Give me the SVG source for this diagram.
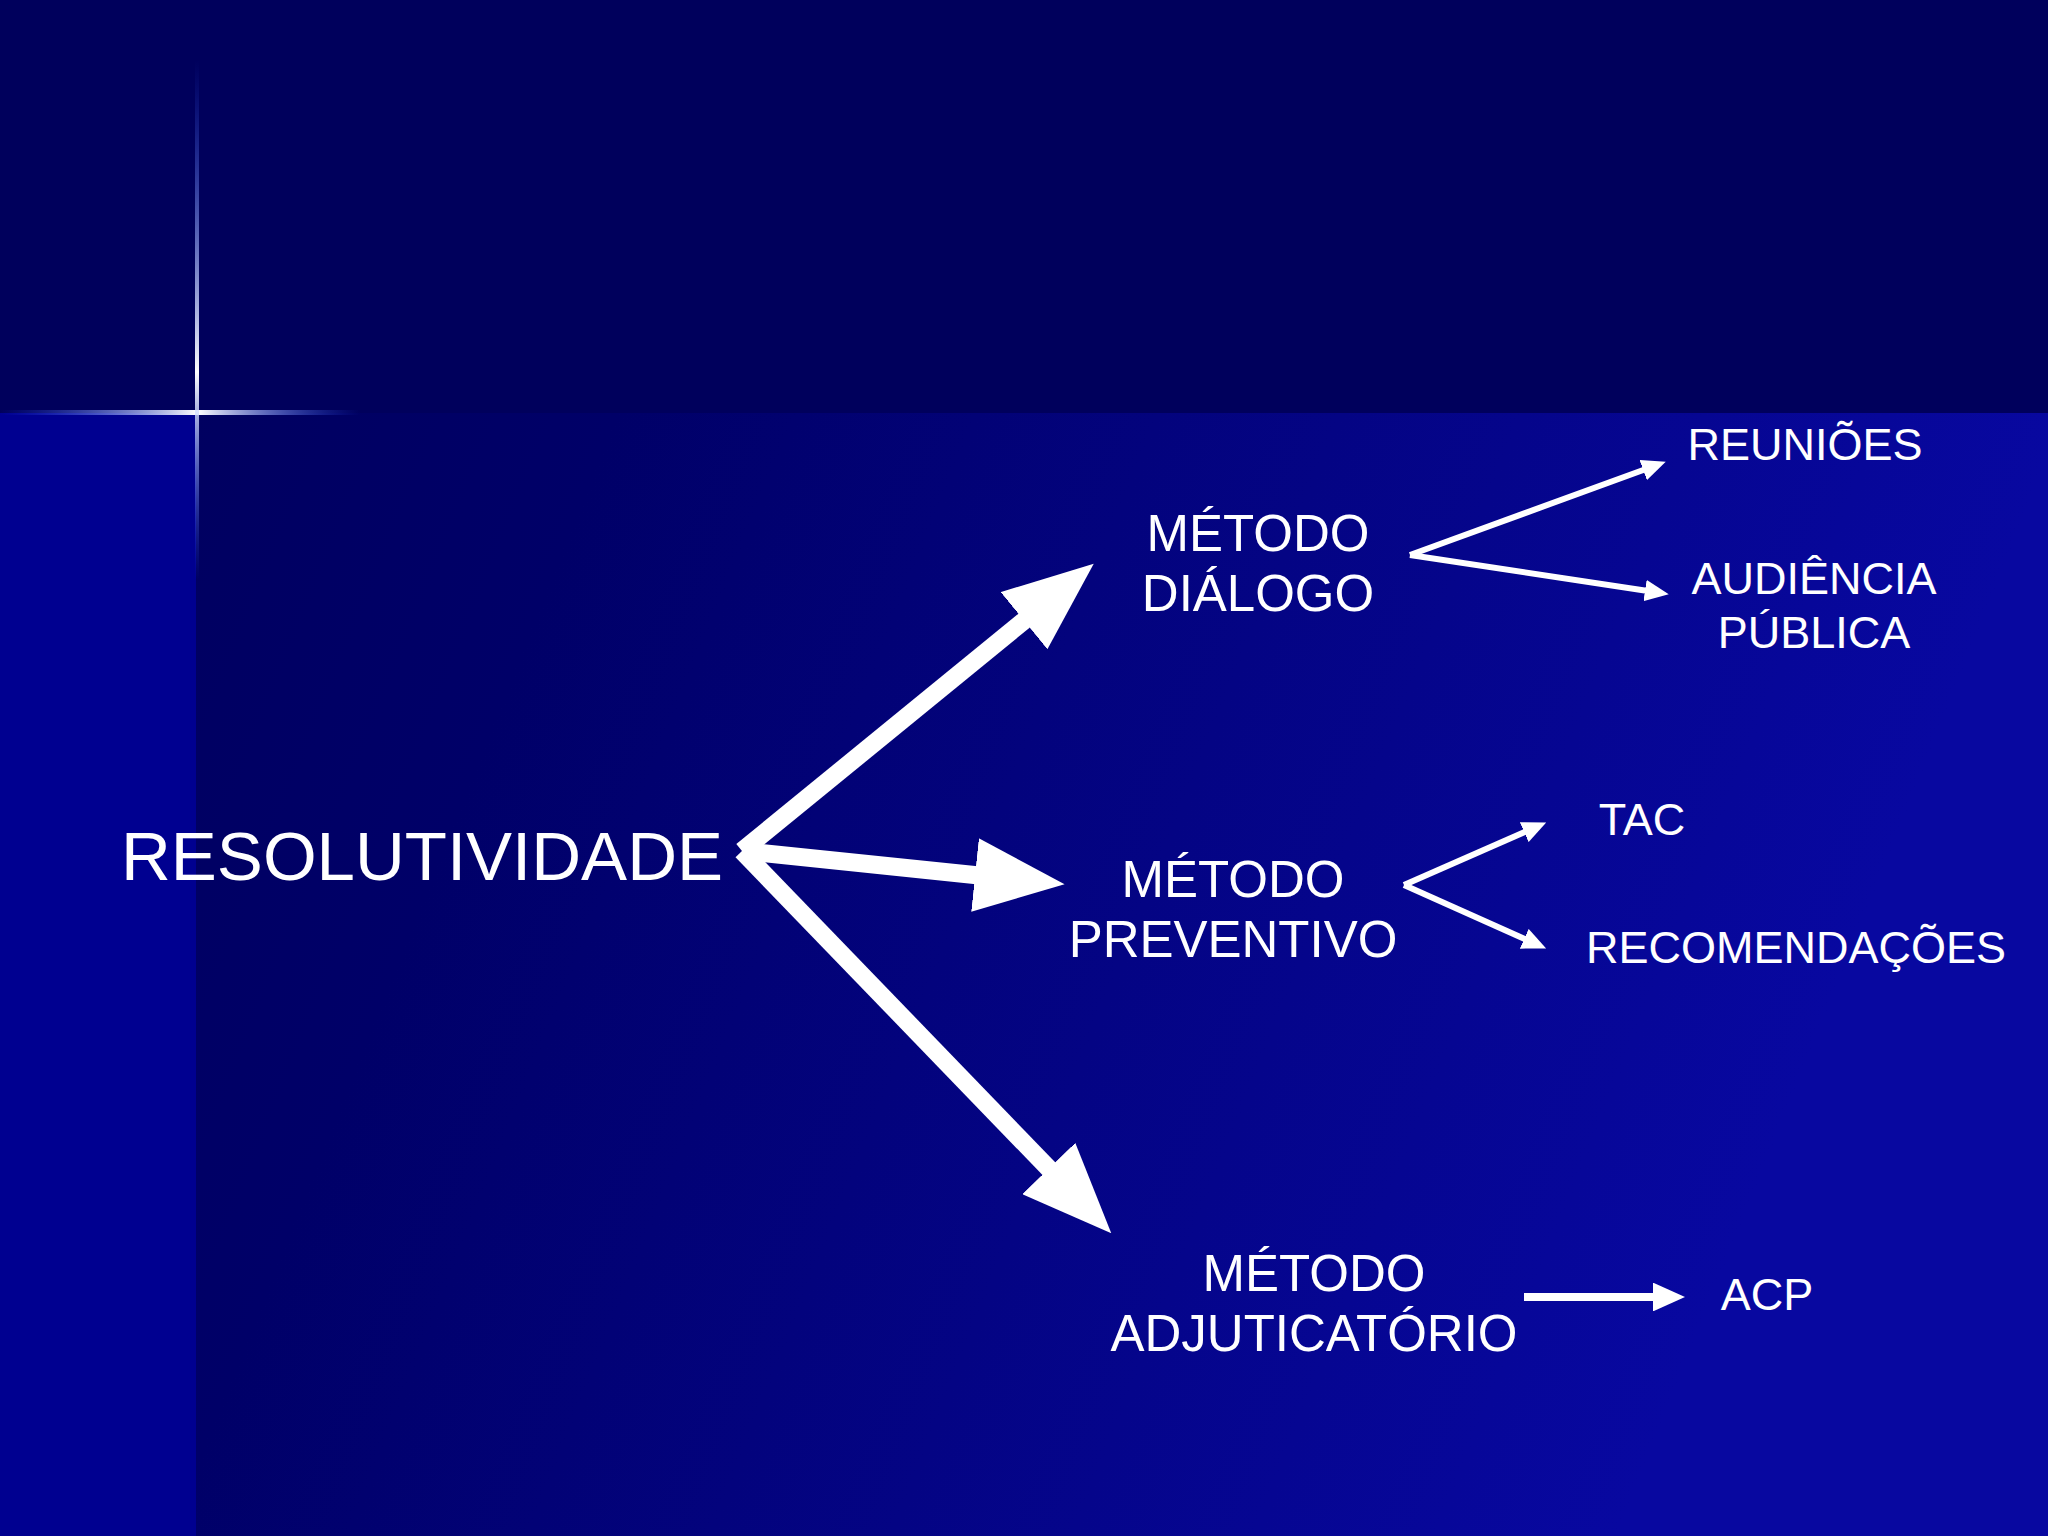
<svg xmlns="http://www.w3.org/2000/svg" width="2048" height="1536" viewBox="0 0 2048 1536">
<defs>
<linearGradient id="bg" x1="0" y1="0" x2="1" y2="0.3">
<stop offset="0" stop-color="#00005a"/><stop offset="0.35" stop-color="#000068"/><stop offset="1" stop-color="#0808a0"/>
</linearGradient>
<linearGradient id="hl" x1="0" y1="0" x2="1" y2="0">
<stop offset="0" stop-color="#2050ff" stop-opacity="0"/><stop offset="0.55" stop-color="#ffffff"/><stop offset="1" stop-color="#2050ff" stop-opacity="0"/>
</linearGradient>
<linearGradient id="vl" x1="0" y1="0" x2="0" y2="1">
<stop offset="0" stop-color="#2050ff" stop-opacity="0"/><stop offset="0.6" stop-color="#ffffff"/><stop offset="1" stop-color="#2050ff" stop-opacity="0"/>
</linearGradient>
<marker id="big" markerWidth="5" markerHeight="4.1" refX="0.5" refY="2.05" orient="auto" markerUnits="strokeWidth"><path d="M0,0 L5,2.05 L0,4.1 Z" fill="#fff"/></marker>
<marker id="sm" markerWidth="4" markerHeight="3.6" refX="0.5" refY="1.8" orient="auto" markerUnits="strokeWidth"><path d="M0,0 L4,1.8 L0,3.6 Z" fill="#fff"/></marker>
</defs>
<style>
text{font-family:"Liberation Sans",Arial,sans-serif;fill:#fff;text-anchor:middle}
.m{font-size:51px}.s{font-size:45px}
.b{stroke:#fff;stroke-width:18;fill:none;marker-end:url(#big)}
.t{stroke:#fff;stroke-width:6;fill:none;marker-end:url(#sm)}
</style>
<rect width="2048" height="1536" fill="url(#bg)"/>
<rect x="0" y="413" width="196" height="1123" fill="#000090"/>
<rect width="2048" height="413" fill="#00005c"/>
<rect x="0" y="410" width="360" height="5" fill="url(#hl)"/>
<rect x="195" y="60" width="4" height="520" fill="url(#vl)"/>
<g id="connectors">
<line class="b" x1="742" y1="851" x2="1031" y2="615"/>
<line class="b" x1="742" y1="851" x2="984" y2="876"/>
<line class="b" x1="742" y1="851" x2="1055" y2="1175"/>
<line class="t" x1="1410" y1="555" x2="1646" y2="469"/>
<line class="t" x1="1410" y1="555" x2="1648" y2="591"/>
<line class="t" x1="1404" y1="885" x2="1527" y2="831"/>
<line class="t" x1="1404" y1="885" x2="1527" y2="940"/>
<line class="t" style="stroke-width:8" x1="1524" y1="1297" x2="1657" y2="1297"/>
</g>
<g id="resolutividade"><text x="422" y="880" style="font-size:69px">RESOLUTIVIDADE</text></g>
<g id="dialogo"><text class="m" x="1258" y="551">MÉTODO</text><text class="m" x="1258" y="611">DIÁLOGO</text></g>
<g id="preventivo"><text class="m" x="1233" y="897">MÉTODO</text><text class="m" x="1233" y="957">PREVENTIVO</text></g>
<g id="adjudicatorio"><text class="m" x="1314" y="1291">MÉTODO</text><text class="m" x="1314" y="1351">ADJUTICATÓRIO</text></g>
<g id="reunioes"><text class="s" x="1805" y="460">REUNIÕES</text></g>
<g id="audiencia"><text class="s" x="1814" y="594">AUDIÊNCIA</text><text class="s" x="1814" y="648">PÚBLICA</text></g>
<g id="tac"><text class="s" x="1642" y="835">TAC</text></g>
<g id="recomendacoes"><text class="s" x="1796" y="963">RECOMENDAÇÕES</text></g>
<g id="acp"><text class="s" x="1767" y="1310">ACP</text></g>
</svg>
